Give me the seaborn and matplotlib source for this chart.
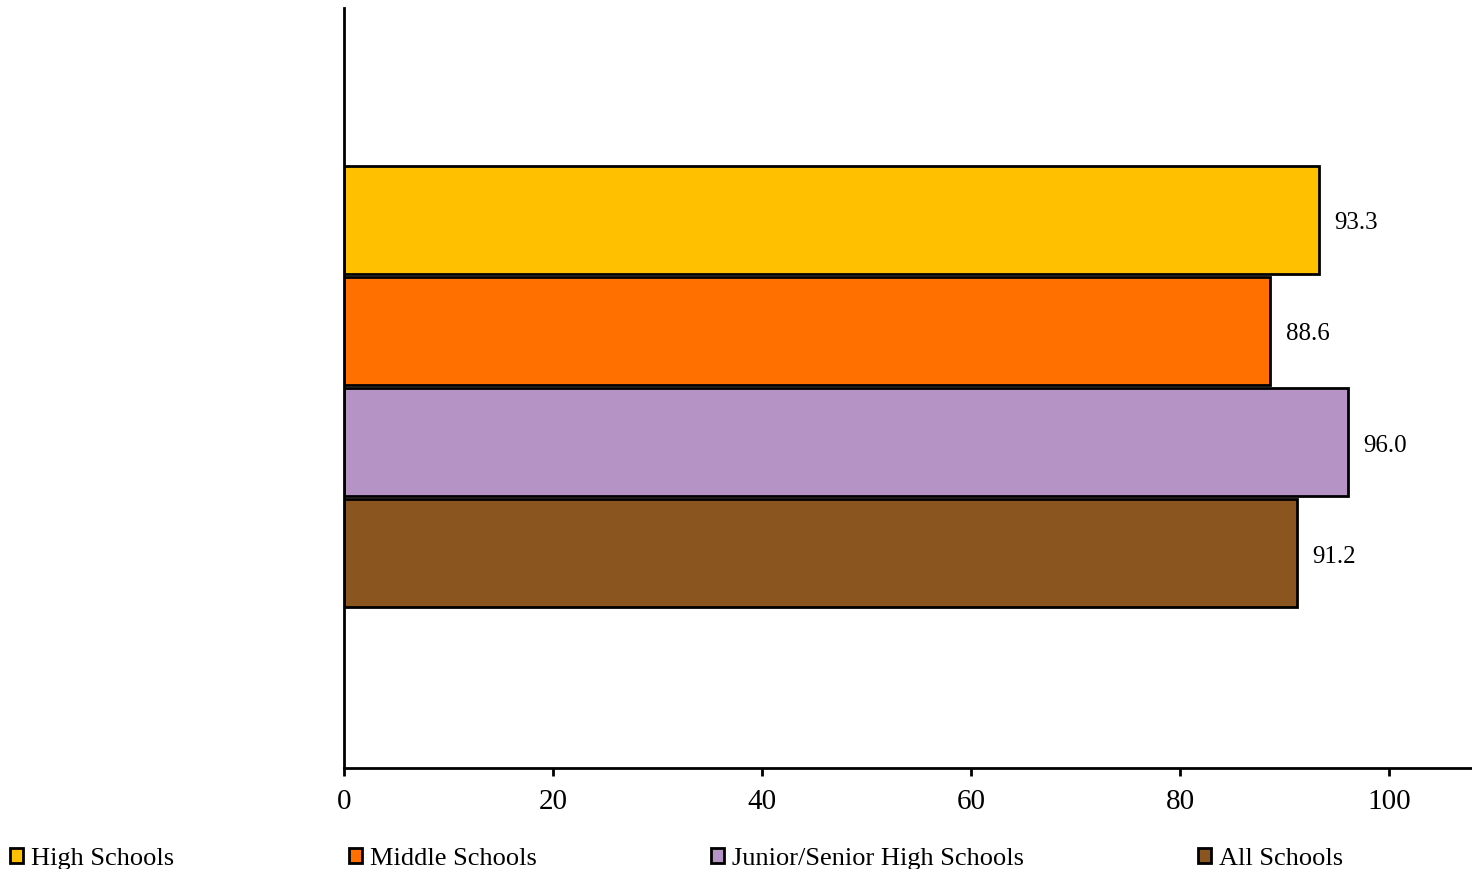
import matplotlib
matplotlib.use('Agg')
import matplotlib.pyplot as plt
from matplotlib.patches import Patch
import seaborn as sns
import pandas as pd

# Data
groups = ['High Schools', 'Middle Schools', 'Junior/Senior High Schools', 'All Schools']
values = [93.3, 88.6, 96.0, 91.2]
colors = ['#FFC000', '#FF7000', '#B593C4', '#8B5520']
x_ticks = [0, 20, 40, 60, 80, 100]

df = pd.DataFrame({'category': ['all'] * len(groups), 'group': groups, 'value': values})

sns.set_style('white')
plt.rcParams['font.family'] = ['Liberation Serif', 'DejaVu Serif']
plt.rcParams['text.color'] = 'black'
plt.rcParams['xtick.color'] = 'black'

fig = plt.figure(figsize=(14.72, 8.69), dpi=100)
ax = fig.add_axes([344 / 1472, 101 / 869, 1128 / 1472, 760 / 869])

sns.barplot(data=df, x='value', y='category', hue='group', hue_order=groups,
            palette=colors, orient='h', width=0.585, gap=0.03,
            edgecolor='black', linewidth=2, saturation=1, legend=False, ax=ax)

# value labels, nudged a little lower like the original
for cont in ax.containers:
    labels = ax.bar_label(cont, fmt='%.1f', padding=11, fontsize=18, color='black')
    for t in labels:
        t.xyann = (11, -2.5)

ax.set_xlim(0, 107.9)
ax.set_xticks(x_ticks)
ax.set_yticks([])
ax.set_xlabel('')
ax.set_ylabel('')
ax.tick_params(axis='x', direction='out', length=6, width=2, labelsize=21, pad=9,
               bottom=True, colors='black')
for side in ['top', 'right']:
    ax.spines[side].set_visible(False)
for side in ['left', 'bottom']:
    ax.spines[side].set_linewidth(2)
    ax.spines[side].set_color('black')
ax.set_ylim(0.502, -0.498)

handles = [Patch(facecolor=c, edgecolor='black', linewidth=2) for c in colors]
fig.legend(handles, groups, loc='center left', bbox_to_anchor=(0.007, 0.0115),
           ncol=4, frameon=False, fontsize=19, handlelength=0.5, handleheight=0.5,
           handletextpad=0.3, columnspacing=6.6, borderpad=0, borderaxespad=0)

fig.savefig('out.png', dpi=100)
